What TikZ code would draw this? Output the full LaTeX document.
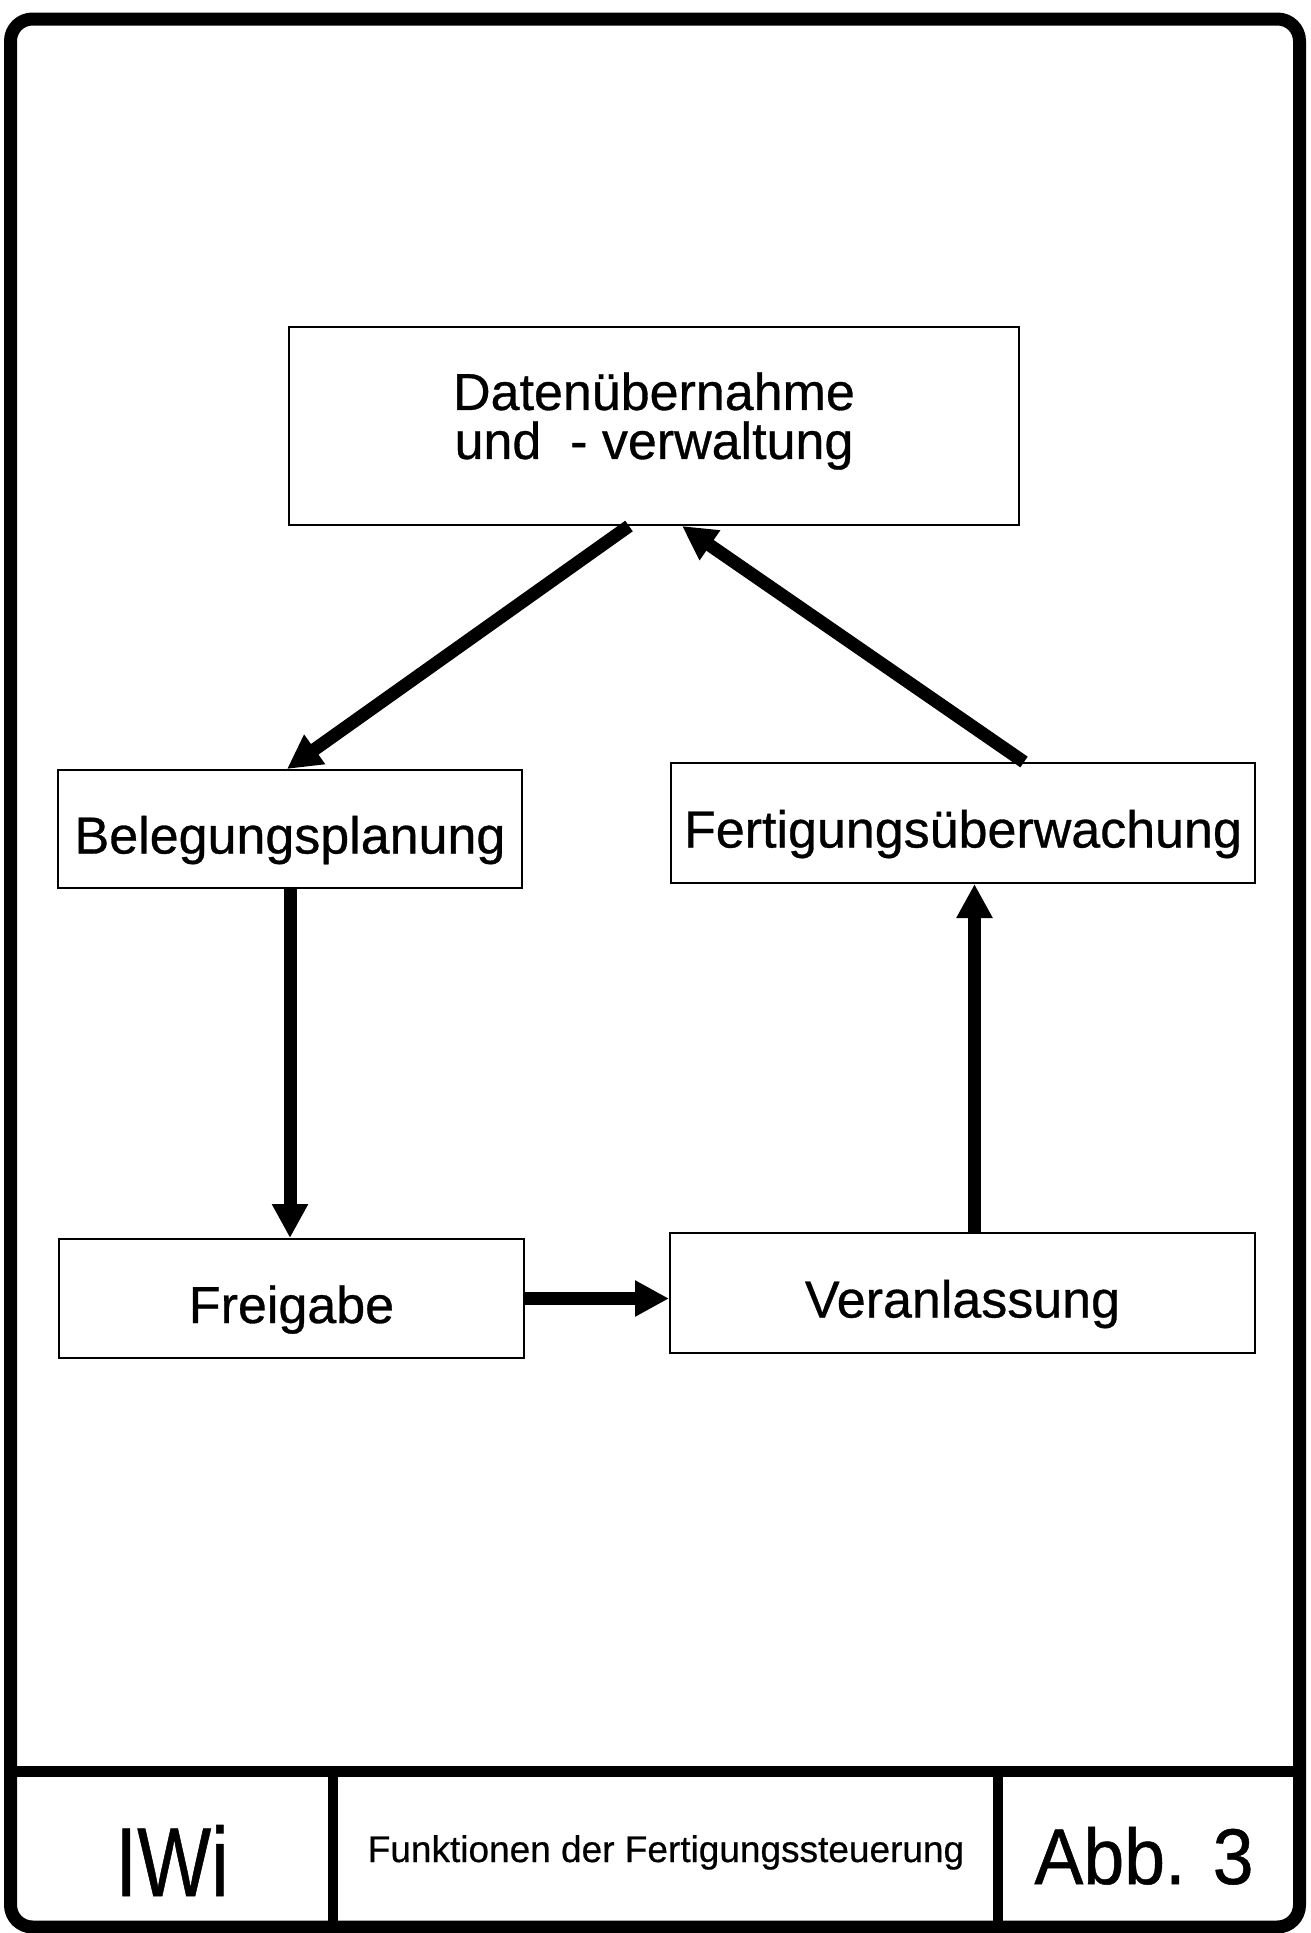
\documentclass[tikz,border=0pt]{standalone}
\usepackage{fontspec}
\setmainfont{Liberation Sans}[FakeBold=0.6]
\usetikzlibrary{arrows.meta}

\tikzset{
  frameline/.style={line width=13pt, line join=round},
  rule/.style={line width=11pt},
  stepbox/.style={draw, line width=2pt, inner sep=0pt,
    font=\fontsize{52}{54}\selectfont, text height=49pt, text depth=0pt},
  boxtext/.style={font=\fontsize{52}{49}\selectfont, align=center, inner sep=0pt},
  flow/.style={line width=13pt, -{Triangle[length=34pt,width=34pt]}},
  foottext/.style={anchor=base, inner sep=0pt}
}

\begin{document}
\begin{tikzpicture}[x=1pt,y=-1pt]
  \useasboundingbox (0,0) rectangle (1311,1933);

  % outer frame with footer strip
  \draw[frameline, rounded corners=22pt] (10.5,19) rectangle (1299.5,1927);
  \draw[rule] (10.5,1771) -- (1299.5,1771);
  \draw[line width=10pt] (333,1771) -- (333,1927);
  \draw[line width=10pt] (998,1771) -- (998,1927);

  % footer labels
  \node[foottext, font=\fontsize{98}{98}\selectfont] (iwi) at (172,1896) {\scalebox{0.8}[1]{IWi}};
  \node[foottext, font=\fontsize{37}{37}\selectfont] (title) at (666,1862) {Funktionen der Fertigungssteuerung};
  \node[foottext, font=\fontsize{79}{79}\selectfont] (abb) at (1144,1884) {\scalebox{0.93}[1]{Abb. 3}};

  % function boxes
  \node[draw, line width=2pt, minimum width=730pt, minimum height=198pt] (daten) at (654,426) {};
  \node[boxtext] (datentext) at ([yshift=5pt]daten.center) {Datenübernahme\\und\ \ - verwaltung};

  \node[stepbox, minimum width=464pt, minimum height=118pt] (beleg) at (290,829) {Belegungsplanung};
  \node[stepbox, minimum width=584pt, minimum height=120pt] (fert) at (963,823) {Fertigungsüberwachung};
  \node[stepbox, minimum width=465pt, minimum height=119pt] (frei) at (291.5,1298.5) {Freigabe};
  \node[stepbox, minimum width=585pt, minimum height=120pt] (veran) at (962.5,1293) {Veranlassung};

  % control flow
  \draw[flow] ([xshift=-25pt]daten.south) -- ([xshift=-3pt]beleg.north);
  \draw[flow] (beleg.south) -- (beleg.south |- frei.north);
  \draw[flow] (frei.east) -- (frei.east -| veran.west);
  \draw[flow] ([xshift=12pt]veran.north) -- ([xshift=12pt]veran.north |- fert.south);
  \draw[flow] ([xshift=61pt]fert.north) -- ([xshift=28pt]daten.south);
\end{tikzpicture}
\end{document}
